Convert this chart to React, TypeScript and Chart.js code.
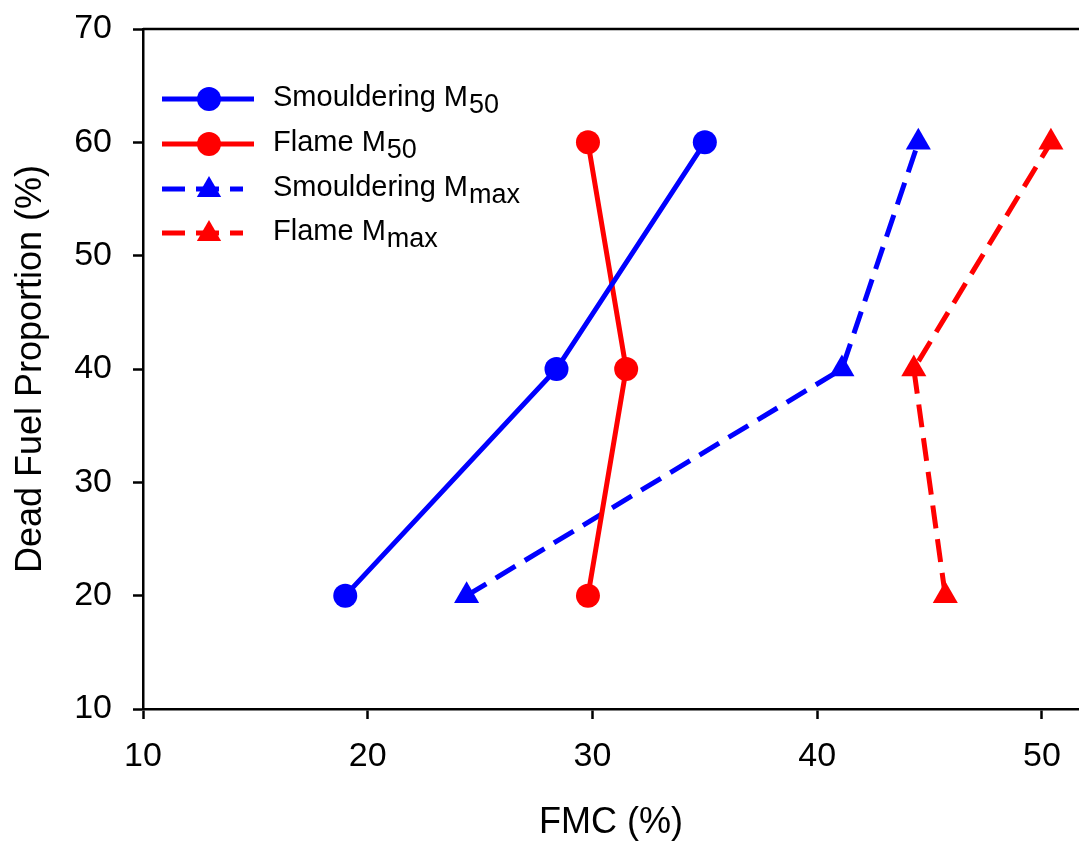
import React, { useEffect, useRef } from 'react';
import { Chart, registerables } from 'chart.js';

Chart.register(...registerables);

// ---- Data ----
const deadFuelProportion = [20, 40, 60];
const smoulderingM50 = [19.0, 28.4, 35.0];
const flameM50 = [29.8, 31.5, 29.8];
const smoulderingMmax = [24.4, 41.1, 44.5];
const flameMmax = [45.7, 44.3, 50.4];
const xTickValues = [10, 20, 30, 40, 50];
const yTickValues = [10, 20, 30, 40, 50, 60, 70];
const legendMain = ['Smouldering M', 'Flame M', 'Smouldering M', 'Flame M'];
const legendSub = ['50', '50', 'max', 'max'];
const xTitle = 'FMC (%)';
const yTitle = 'Dead Fuel Proportion (%)';

const FONT = "'Liberation Sans', Arial, Helvetica, sans-serif";
const BLUE = '#0000ff';
const RED = '#ff0000';

const toPoints = (xs: number[]) => xs.map((x, i) => ({ x, y: deadFuelProportion[i] }));

const topBorderPlugin = {
  id: 'topBorder',
  afterDraw(chart: any) {
    const { ctx, chartArea } = chart;
    ctx.save();
    ctx.strokeStyle = '#000';
    ctx.lineWidth = 2.5;
    ctx.beginPath();
    ctx.moveTo(chartArea.left, chartArea.top);
    ctx.lineTo(chart.width, chartArea.top);
    ctx.stroke();
    ctx.restore();
  },
};

const customLegendPlugin = {
  id: 'customLegend',
  afterDatasetsDraw(chart: any) {
    const { ctx } = chart;
    const rows = [99, 144, 189, 233];
    const lineStart = 162;
    const marker = 209;
    const textX = 273;
    ctx.save();
    chart.data.datasets.forEach((ds: any, i: number) => {
      const y = rows[i];
      const dashed = ds.borderDash && ds.borderDash.length > 0;
      const lineEnd = dashed ? 243 : 254;
      ctx.strokeStyle = ds.borderColor;
      ctx.fillStyle = ds.backgroundColor;
      ctx.lineWidth = 5;
      ctx.lineCap = 'butt';
      ctx.setLineDash(dashed ? [23, 11] : []);
      ctx.beginPath();
      ctx.moveTo(lineStart, y);
      ctx.lineTo(lineEnd, y);
      ctx.stroke();
      ctx.setLineDash([]);
      ctx.beginPath();
      if (ds.pointStyle === 'triangle') {
        const r = 14;
        for (let k = 0; k < 3; k++) {
          const a = (k * 2 * Math.PI) / 3;
          const px = marker + Math.sin(a) * r;
          const py = y + 1 - Math.cos(a) * r;
          if (k === 0) ctx.moveTo(px, py);
          else ctx.lineTo(px, py);
        }
        ctx.closePath();
      } else {
        ctx.arc(marker, y, 12, 0, Math.PI * 2);
      }
      ctx.fill();

      ctx.fillStyle = '#000';
      ctx.textBaseline = 'alphabetic';
      ctx.textAlign = 'left';
      ctx.font = `29px ${FONT}`;
      const base = y + 7;
      ctx.fillText(legendMain[i], textX, base);
      const w = ctx.measureText(legendMain[i]).width;
      ctx.font = `27px ${FONT}`;
      ctx.fillText(legendSub[i], textX + w + 1, base + 7);
    });
    ctx.restore();
  },
};

export default function App() {
  const canvasRef = useRef<HTMLCanvasElement | null>(null);

  useEffect(() => {
    document.body.style.margin = '0';
    const canvas = canvasRef.current;
    if (!canvas) return;

    const common = { borderWidth: 5, showLine: true, fill: false, tension: 0 };

    const chart = new Chart(canvas, {
      type: 'scatter',
      data: {
        datasets: [
          {
            ...common,
            label: 'Smouldering M50',
            data: toPoints(smoulderingM50),
            borderColor: BLUE,
            backgroundColor: BLUE,
            pointStyle: 'circle',
            pointRadius: 12,
            pointBorderWidth: 0,
          },
          {
            ...common,
            label: 'Flame M50',
            data: toPoints(flameM50),
            borderColor: RED,
            backgroundColor: RED,
            pointStyle: 'circle',
            pointRadius: 12,
            pointBorderWidth: 0,
          },
          {
            ...common,
            label: 'Smouldering Mmax',
            data: toPoints(smoulderingMmax),
            borderColor: BLUE,
            backgroundColor: BLUE,
            borderDash: [23, 11],
            pointStyle: 'triangle',
            pointRadius: 14.5,
            pointBorderWidth: 0,
          },
          {
            ...common,
            label: 'Flame Mmax',
            data: toPoints(flameMmax),
            borderColor: RED,
            backgroundColor: RED,
            borderDash: [23, 11],
            pointStyle: 'triangle',
            pointRadius: 14.5,
            pointBorderWidth: 0,
          },
        ],
      },
      options: {
        responsive: false,
        animation: false,
        layout: { autoPadding: false, padding: { top: 29, right: 0, left: 0, bottom: 0 } },
        plugins: {
          legend: { display: false },
          tooltip: { enabled: false },
        },
        scales: {
          x: {
            type: 'linear',
            min: 10,
            max: 51.65,
            afterBuildTicks: (scale: any) => {
              scale.ticks = xTickValues.map((v) => ({ value: v }));
            },
            afterFit: (scale: any) => {
              scale.height = 138;
              scale.paddingLeft = 0;
              scale.paddingRight = 0;
            },
            grid: {
              display: true,
              drawOnChartArea: false,
              drawTicks: true,
              tickLength: 10,
              tickWidth: 2.5,
              tickColor: '#000',
            },
            border: { display: true, color: '#000', width: 2.5 },
            ticks: {
              color: '#000',
              padding: 17,
              font: { family: FONT, size: 34 },
              maxRotation: 0,
            },
            title: {
              display: true,
              text: xTitle,
              color: '#000',
              font: { family: FONT, size: 36 },
              padding: { top: 0, bottom: 2 },
            },
          },
          y: {
            type: 'linear',
            min: 10,
            max: 70,
            afterBuildTicks: (scale: any) => {
              scale.ticks = yTickValues.map((v) => ({ value: v }));
            },
            afterFit: (scale: any) => {
              scale.width = 143;
              scale.paddingTop = 0;
              scale.paddingBottom = 0;
            },
            grid: {
              display: true,
              drawOnChartArea: false,
              drawTicks: true,
              tickLength: 10,
              tickWidth: 2.5,
              tickColor: '#000',
            },
            border: { display: true, color: '#000', width: 2.5 },
            ticks: {
              color: '#000',
              padding: 21,
              font: { family: FONT, size: 34 },
            },
            title: {
              display: true,
              text: yTitle,
              color: '#000',
              font: { family: FONT, size: 36 },
              padding: { top: 9, bottom: 0 },
            },
          },
        },
      },
      plugins: [topBorderPlugin, customLegendPlugin],
    });

    return () => {
      chart.destroy();
    };
  }, []);

  return (
    <div style={{ width: 1079, height: 847, background: '#fff' }}>
      <canvas ref={canvasRef} width={1079} height={847} style={{ display: 'block' }} />
    </div>
  );
}
